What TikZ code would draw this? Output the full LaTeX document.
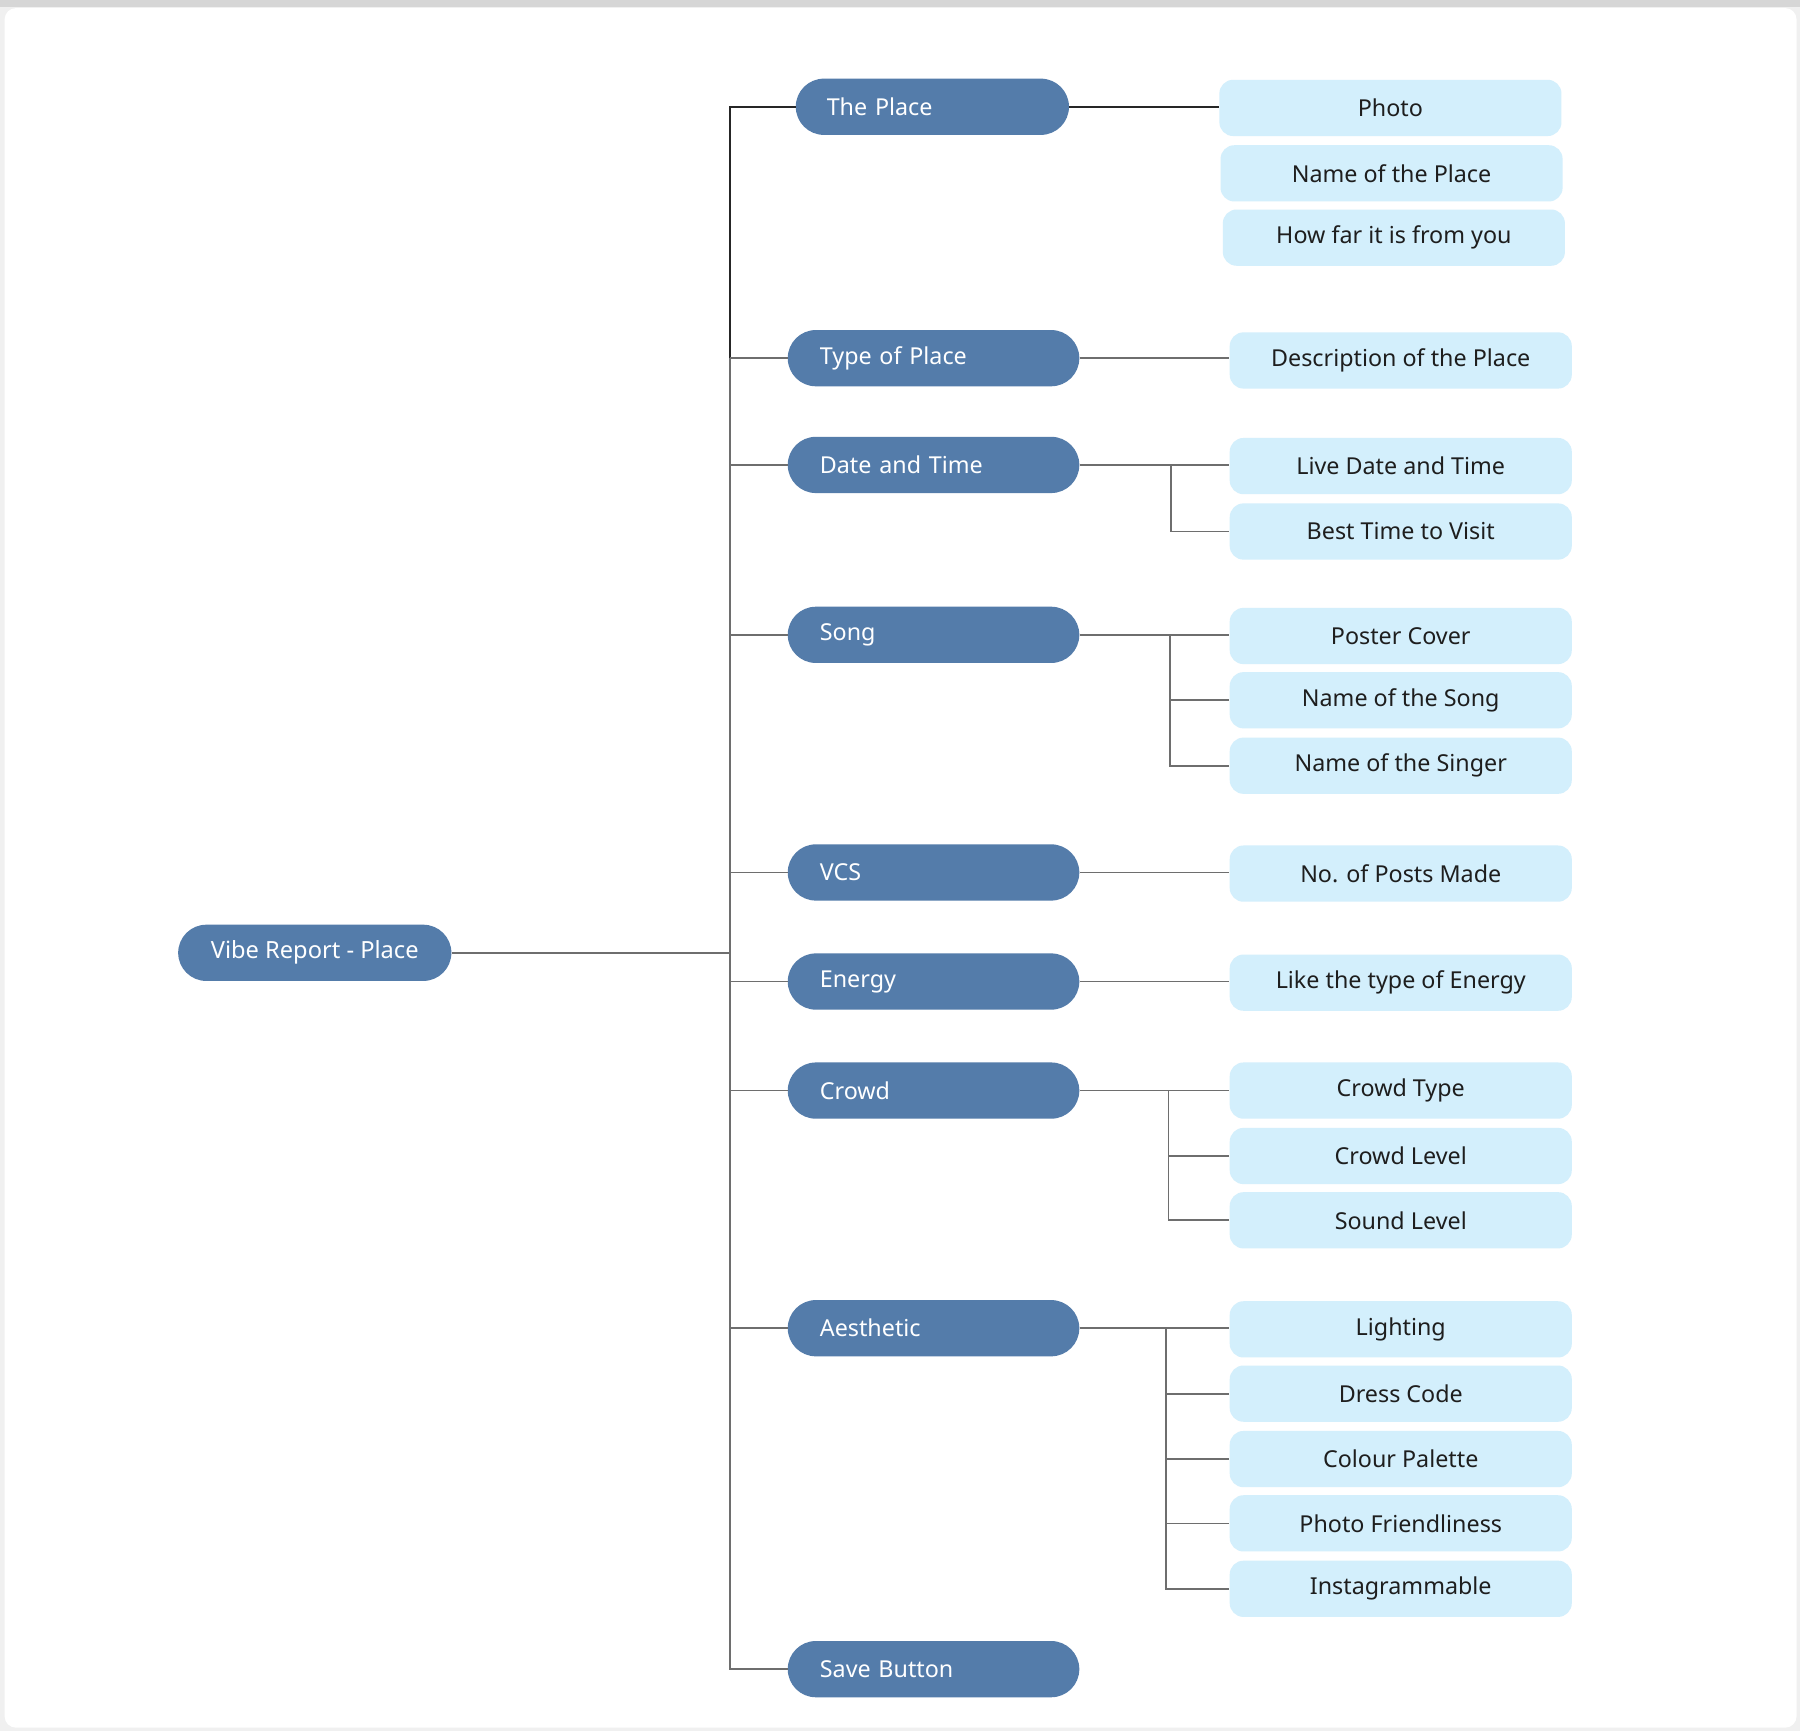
\documentclass[tikz,border=0pt]{standalone}
\usepackage{fontspec}
\setmainfont{Noto Sans}
\definecolor{darkblue}{HTML}{547CAA}
\definecolor{lightblue}{HTML}{D3EFFC}
\definecolor{linegrey}{HTML}{6E6E6E}
\definecolor{txt}{HTML}{1E1E1E}
\begin{document}
\begin{tikzpicture}[x=1pt,y=-1pt,
  l1/.style={fill=darkblue, text=white, rounded corners=24.5pt, minimum height=49pt,
    inner xsep=28pt, inner ysep=0pt, text width=198pt, align=left, anchor=west,
    font=\fontsize{20.3}{22}\selectfont},
  rootbox/.style={fill=darkblue, text=white, rounded corners=24.5pt, minimum height=49pt,
    minimum width=238pt, inner sep=0pt, anchor=west, font=\fontsize{20.6}{22}\selectfont},
  l2/.style={fill=lightblue, text=txt, rounded corners=12pt, minimum height=49pt,
    minimum width=298pt, inner sep=0pt, anchor=west, font=\fontsize{20.3}{22}\selectfont},
  conn/.style={draw=linegrey, line width=1.5pt},
  connd/.style={draw=black!85, line width=1.5pt}]
% background and card
\useasboundingbox (0,0) rectangle (1568,1508);
\fill[black!6] (0,0) rectangle (1568,1508);
\fill[black!16] (0,0) rectangle (1568,6);
\fill[white, rounded corners=10pt] (4,7) rectangle (1565,1505);

% root
\node[rootbox] (root) at (155,830) {Vibe Report - Place};

% level 1
\node[l1, text width=184pt, inner xsep=27pt] (place) at (693,93) {The Place};
\node[l1] (type) at (686,312) {Type of Place};
\node[l1] (date) at (686,405) {Date and Time};
\node[l1] (song) at (686,553) {Song};
\node[l1] (vcs) at (686,760) {VCS};
\node[l1] (energy) at (686,855) {Energy};
\node[l1] (crowd) at (686,950) {Crowd};
\node[l1] (aes) at (686,1157) {Aesthetic};
\node[l1] (save) at (686,1454) {Save Button};

% level 2
\node[l2] (photo) at (1062,94) {Photo};
\node[l2] (pname) at (1063,151) {Name of the Place};
\node[l2] (far) at (1065,207) {How far it is from you};
\node[l2] (desc) at (1071,314) {Description of the Place};
\node[l2] (live) at (1071,406) {Live Date and Time};
\node[l2] (best) at (1071,463) {Best Time to Visit};
\node[l2] (poster) at (1071,554) {Poster Cover};
\node[l2] (sname) at (1071,610) {Name of the Song};
\node[l2] (singer) at (1071,667) {Name of the Singer};
\node[l2] (posts) at (1071,761) {No. of Posts Made};
\node[l2] (etype) at (1071,856) {Like the type of Energy};
\node[l2] (ctype) at (1071,950) {Crowd Type};
\node[l2] (clevel) at (1071,1007) {Crowd Level};
\node[l2] (slevel) at (1071,1063) {Sound Level};
\node[l2] (light) at (1071,1158) {Lighting};
\node[l2] (dress) at (1071,1214) {Dress Code};
\node[l2] (palette) at (1071,1271) {Colour Palette};
\node[l2] (friendly) at (1071,1327) {Photo Friendliness};
\node[l2] (insta) at (1071,1384) {Instagrammable};

% branch columns
\coordinate (trunk) at (636,0);
\coordinate (bD) at (1020,0);
\coordinate (bS) at (1019,0);
\coordinate (bC) at (1018,0);
\coordinate (bA) at (1016,0);

% trunk
\draw[conn] (root.east) -- (trunk |- root.east);
\draw[connd] (trunk |- type.west) -- (trunk |- place.west) -- (place.west);
\draw[conn] (trunk |- type.west) |- (save.west);
\foreach \n in {type,date,song,vcs,energy,crowd,aes}
  \draw[conn] (trunk |- \n.west) -- (\n.west);

% level 1 to level 2
\draw[connd] (place.east) -- (photo.west |- place.east);
\draw[conn] (type.east) -- (desc.west |- type.east);
\draw[conn] (vcs.east) -- (posts.west |- vcs.east);
\draw[conn] (energy.east) -- (etype.west |- energy.east);

\draw[conn] (date.east) -- (live.west |- date.east);
\draw[conn] (bD |- date.east) |- (best.west);

\draw[conn] (song.east) -- (poster.west |- song.east);
\foreach \c in {sname,singer} \draw[conn] (bS |- song.east) |- (\c.west);

\draw[conn] (crowd.east) -- (ctype.west |- crowd.east);
\foreach \c in {clevel,slevel} \draw[conn] (bC |- crowd.east) |- (\c.west);

\draw[conn] (aes.east) -- (light.west |- aes.east);
\foreach \c in {dress,palette,friendly,insta} \draw[conn] (bA |- aes.east) |- (\c.west);
\end{tikzpicture}
\end{document}
